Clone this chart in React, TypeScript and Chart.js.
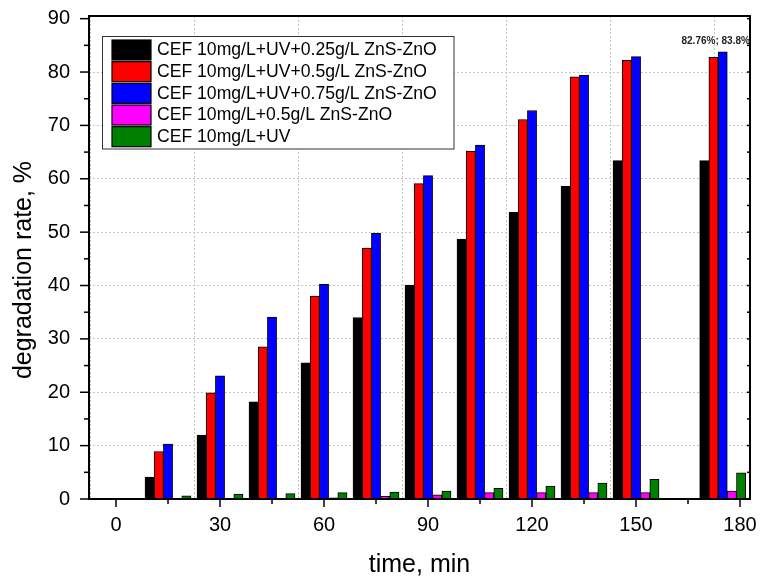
import React, { useEffect, useRef } from 'react';
import { Chart, registerables } from 'chart.js';

Chart.register(...registerables);

// ---- data ----
const times = [15, 30, 45, 60, 75, 90, 105, 120, 135, 150, 175];
const uv025 = [4.1, 12.0, 18.2, 25.5, 34.0, 40.1, 48.7, 53.7, 58.6, 63.4, 63.4];
const uv05 = [8.9, 19.9, 28.5, 38.0, 47.0, 59.1, 65.2, 71.1, 79.1, 82.2, 82.76];
const uv075 = [10.3, 23.1, 34.1, 40.2, 49.8, 60.6, 66.3, 72.8, 79.4, 82.9, 83.8];
const dark05 = [0, 0, 0, 0.2, 0.5, 0.8, 1.2, 1.2, 1.2, 1.2, 1.5];
const uvOnly = [0.6, 0.9, 1.0, 1.2, 1.3, 1.5, 2.0, 2.4, 3.0, 3.7, 4.9];

const seriesLabels = [
  'CEF 10mg/L+UV+0.25g/L ZnS-ZnO',
  'CEF 10mg/L+UV+0.5g/L ZnS-ZnO',
  'CEF 10mg/L+UV+0.75g/L ZnS-ZnO',
  'CEF 10mg/L+0.5g/L ZnS-ZnO',
  'CEF 10mg/L+UV',
];
const seriesValues = [uv025, uv05, uv075, dark05, uvOnly];
const seriesColors = ['#000000', '#ff0000', '#0000ff', '#ff00ff', '#008000'];

const xTickValues = [0, 15, 30, 45, 60, 75, 90, 105, 120, 135, 150, 165, 180];
const xLabelValues = [0, 30, 60, 90, 120, 150, 180];
const yTickValues = [0, 5, 10, 15, 20, 25, 30, 35, 40, 45, 50, 55, 60, 65, 70, 75, 80, 85, 90];
const yLabelValues = [0, 10, 20, 30, 40, 50, 60, 70, 80, 90];

const xTitle = 'time, min';
const yTitle = 'degradation rate, %';
const noteText = '82.76%; 83.8%';
const noteAt = { x: 175, y: 83.8 };

const FONT = '"Liberation Sans", Arial, Helvetica, sans-serif';

const decorPlugin = {
  id: 'decor',
  afterDatasetsDraw(chart: any) {
    const { ctx, chartArea, scales } = chart;
    const { left, right, top, bottom } = chartArea;
    const x = scales.x;
    const y = scales.y;
    ctx.save();
    ctx.strokeStyle = '#000';
    ctx.lineWidth = 1.5;
    // left axis ticks (outward), right axis ticks (inward)
    yTickValues.forEach((v) => {
      const py = y.getPixelForValue(v);
      const major = yLabelValues.includes(v);
      ctx.beginPath();
      ctx.moveTo(left, py);
      ctx.lineTo(left - (major ? 9 : 5), py);
      ctx.stroke();
      ctx.beginPath();
      ctx.moveTo(right, py);
      ctx.lineTo(right - 3, py);
      ctx.stroke();
    });
    // bottom axis ticks (outward)
    xTickValues.forEach((v) => {
      const px = x.getPixelForValue(v);
      const major = xLabelValues.includes(v);
      ctx.beginPath();
      ctx.moveTo(px, bottom);
      ctx.lineTo(px, bottom + (major ? 8 : 5));
      ctx.stroke();
    });
    // frame
    ctx.lineWidth = 2;
    ctx.strokeRect(left, top, right - left, bottom - top);

    // annotation
    ctx.fillStyle = '#222';
    ctx.font = `bold 10px ${FONT}`;
    ctx.textAlign = 'center';
    ctx.textBaseline = 'middle';
    ctx.fillText(noteText, x.getPixelForValue(noteAt.x) - 7, y.getPixelForValue(noteAt.y) - 11);

    // legend
    const lx = 102.5;
    const ly = 36.5;
    ctx.fillStyle = '#fff';
    ctx.fillRect(lx, ly, 351.5, 112.5);
    ctx.lineWidth = 1;
    ctx.strokeStyle = '#333';
    ctx.strokeRect(lx, ly, 351.5, 112.5);
    ctx.font = `17.6px ${FONT}`;
    ctx.textAlign = 'left';
    ctx.textBaseline = 'middle';
    seriesLabels.forEach((lab, i) => {
      const ry = 40 + i * 21.67;
      ctx.fillStyle = seriesColors[i];
      ctx.fillRect(112, ry, 39, 20);
      ctx.strokeStyle = '#000';
      ctx.lineWidth = 1.2;
      ctx.strokeRect(112, ry, 39, 20);
      ctx.fillStyle = '#000';
      ctx.fillText(lab, 157, ry + 10.5);
    });

    // axis titles
    ctx.fillStyle = '#000';
    ctx.font = `25px ${FONT}`;
    ctx.textAlign = 'center';
    ctx.textBaseline = 'middle';
    ctx.fillText(xTitle, (left + right) / 2, 565);
    ctx.save();
    ctx.translate(24, 270);
    ctx.rotate(-Math.PI / 2);
    ctx.fillText(yTitle, 0, 0);
    ctx.restore();

    ctx.restore();
  },
};

export default function App() {
  const ref = useRef<HTMLCanvasElement | null>(null);

  useEffect(() => {
    if (!ref.current) return;
    const datasets = seriesLabels.map((lab, i) => ({
      label: lab,
      data: times.map((t, k) => ({ x: t, y: seriesValues[i][k] })),
      backgroundColor: seriesColors[i],
      borderColor: '#000',
      borderWidth: 1,
      barThickness: 9.2,
      borderSkipped: 'bottom' as const,
    }));
    const chart = new Chart(ref.current, {
      type: 'bar',
      data: { datasets },
      plugins: [decorPlugin],
      options: {
        responsive: false,
        animation: false,
        devicePixelRatio: 1,
        layout: { padding: { left: 0, right: 11, top: 16, bottom: 0 } },
        plugins: {
          legend: { display: false },
          tooltip: { enabled: false },
          title: { display: false },
        },
        scales: {
          x: {
            type: 'linear',
            min: -7.79,
            max: 182.88,
            offset: false,
            afterBuildTicks: (scale: any) => {
              scale.ticks = xTickValues.map((v) => ({ value: v }));
            },
            afterFit: (scale: any) => {
              scale.height = 81;
              scale.paddingLeft = 0;
              scale.paddingRight = 0;
              scale.paddingTop = 0;
              scale.paddingBottom = 0;
            },
            ticks: {
              autoSkip: false,
              maxRotation: 0,
              padding: 14.5,
              color: '#000',
              font: { family: FONT, size: 20 },
              callback: (v: any) => (xLabelValues.includes(Number(v)) ? String(v) : ''),
            },
            grid: {
              drawTicks: false,
              lineWidth: 1,
              color: (c: any) =>
                c.tick && xLabelValues.includes(c.tick.value) ? '#c4c4c4' : 'rgba(0,0,0,0)',
            },
            border: { display: false, dash: [2, 2] },
          },
          y: {
            type: 'linear',
            min: 0,
            max: 90.5,
            afterBuildTicks: (scale: any) => {
              scale.ticks = yTickValues.map((v) => ({ value: v }));
            },
            afterFit: (scale: any) => {
              scale.width = 89;
              scale.paddingLeft = 0;
              scale.paddingRight = 0;
              scale.paddingTop = 0;
              scale.paddingBottom = 0;
            },
            ticks: {
              autoSkip: false,
              padding: 19,
              color: '#000',
              font: { family: FONT, size: 20 },
              callback: (v: any) => (yLabelValues.includes(Number(v)) ? String(v) : ''),
            },
            grid: {
              drawTicks: false,
              lineWidth: 1,
              color: (c: any) =>
                c.tick && yLabelValues.includes(c.tick.value) && c.tick.value !== 0 && c.tick.value !== 90
                  ? '#c4c4c4'
                  : 'rgba(0,0,0,0)',
            },
            border: { display: false, dash: [2, 2] },
          },
        },
      },
    });
    return () => chart.destroy();
  }, []);

  return (
    <div style={{ position: 'absolute', left: 0, top: 0, width: 761, height: 580, background: '#fff' }}>
      <canvas ref={ref} width={761} height={580} style={{ display: 'block' }} />
    </div>
  );
}
